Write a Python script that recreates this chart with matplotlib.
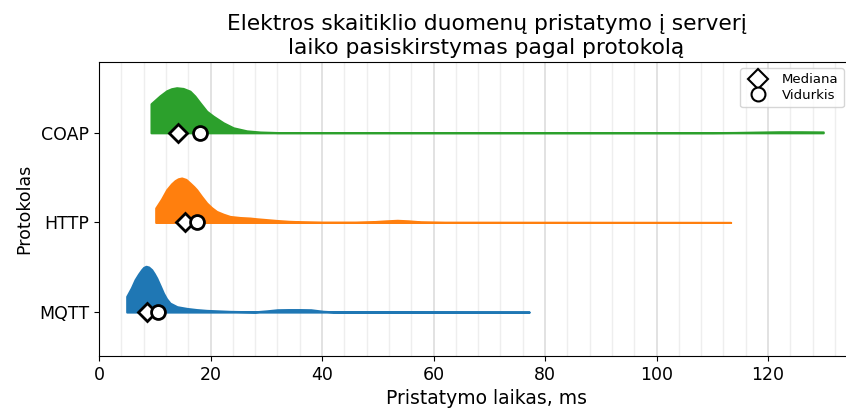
import matplotlib
matplotlib.use("Agg")
import matplotlib.pyplot as plt
from matplotlib.lines import Line2D
from matplotlib.ticker import MultipleLocator

# Protokolai (iš apačios į viršų) ir jų spalvos
protocols = ["MQTT", "HTTP", "COAP"]
colors = ["#1f77b4", "#ff7f0e", "#2ca02c"]

# Tankio kreivės (x - ms, h - santykinis aukštis), nuskaitytos nuo paveikslo
mqtt_x = [4.97, 4.97, 5.8, 6.46, 7.1, 7.65, 8.0, 8.43, 8.9, 9.45, 9.9, 10.35, 11.0, 11.55, 12.1,
          12.74, 14.0, 15.73, 17.5, 19.3, 23.5, 28.0, 30.1, 32.0, 34.0, 36.0, 38.0, 40.2, 42.0,
          50.0, 77.2]
mqtt_h = [0.0, 0.175, 0.27, 0.361, 0.425, 0.473, 0.498, 0.511, 0.503, 0.473, 0.43, 0.38, 0.29,
          0.212, 0.15, 0.100, 0.06, 0.041, 0.028, 0.019, 0.008, 0.003, 0.014, 0.026, 0.028,
          0.028, 0.026, 0.009, 0.003, 0.001, 0.0]

http_x = [10.17, 10.17, 11.2, 12.14, 13.0, 13.63, 14.2, 14.83, 15.6, 16.32, 17.0, 17.52, 18.4,
          19.32, 20.2, 21.1, 22.3, 23.5, 25.3, 27.1, 28.3, 30.0, 31.9, 34.0, 36.1, 40.0, 46.0,
          49.2, 51.5, 53.5, 55.5, 57.7, 62.0, 113.3]
http_h = [0.0, 0.161, 0.26, 0.365, 0.43, 0.466, 0.487, 0.496, 0.48, 0.44, 0.40, 0.365, 0.29,
          0.217, 0.165, 0.123, 0.092, 0.067, 0.055, 0.049, 0.041, 0.032, 0.022, 0.013, 0.008,
          0.003, 0.003, 0.009, 0.018, 0.024, 0.018, 0.007, 0.002, 0.0]

coap_x = [9.33, 9.33, 10.94, 12.14, 13.0, 13.93, 15.1, 16.32, 17.2, 18.12, 19.32, 20.51, 22.3,
          24.1, 26.5, 28.9, 32.0, 110.0, 114.0, 118.0, 122.0, 126.0, 129.9]
coap_h = [0.0, 0.324, 0.413, 0.469, 0.492, 0.503, 0.495, 0.465, 0.41, 0.335, 0.241, 0.185,
          0.112, 0.056, 0.022, 0.009, 0.003, 0.002, 0.004, 0.008, 0.012, 0.012, 0.010]

curves_x = [mqtt_x, http_x, coap_x]
curves_h = [mqtt_h, http_h, coap_h]

# Mediana ir vidurkis
medians = [8.6, 15.4, 14.2]
means = [10.6, 17.6, 18.1]

fig = plt.figure(figsize=(8.46, 4.12), dpi=100)
ax = fig.add_axes([99 / 846, 1 - 356 / 412, 775 / 846, 294 / 412])

for i, (xs, hs) in enumerate(zip(curves_x, curves_h)):
    base = [i] * len(xs)
    top = [i + h for h in hs]
    ax.fill_between(xs, base, top, color=colors[i], linewidth=1.5, edgecolor=colors[i], zorder=2)
    ax.plot(medians[i], i, marker="D", markersize=9.5, markerfacecolor="white",
            markeredgecolor="black", markeredgewidth=2, zorder=4)
    ax.plot(means[i], i, marker="o", markersize=10, markerfacecolor="white",
            markeredgecolor="black", markeredgewidth=2, zorder=4)

ax.set_xlim(0, 139)
ax.set_ylim(-0.49, 2.79)
ax.set_yticks(range(len(protocols)))
ax.set_yticklabels(protocols)
ax.tick_params(labelsize=12.5)

ax.xaxis.set_major_locator(MultipleLocator(20))
ax.xaxis.set_minor_locator(MultipleLocator(4))
ax.grid(axis="x", which="major", color="#dddddd", linewidth=1.2, zorder=0)
ax.grid(axis="x", which="minor", color="#eeeeee", linewidth=1.0, zorder=0)
ax.tick_params(axis="x", which="minor", length=0)
ax.set_axisbelow(True)

ax.set_title("Elektros skaitiklio duomenų pristatymo į serverį\nlaiko pasiskirstymas pagal protokolą",
             fontsize=15.7)
ax.set_xlabel("Pristatymo laikas, ms", fontsize=13.5)
ax.set_ylabel("Protokolas", fontsize=12.5)

handles = [
    Line2D([], [], linestyle="none", marker="D", markersize=10, markerfacecolor="white",
           markeredgecolor="black", markeredgewidth=1.5, label="Mediana"),
    Line2D([], [], linestyle="none", marker="o", markersize=10, markerfacecolor="white",
           markeredgecolor="black", markeredgewidth=1.5, label="Vidurkis"),
]
ax.legend(handles=handles, loc="upper right", bbox_to_anchor=((844 - 99) / 775, 1 - 6 / 294),
          borderaxespad=0, fontsize=9.5, handletextpad=0.8, labelspacing=0.2, borderpad=0.4)

fig.savefig("out.png", dpi=100)
